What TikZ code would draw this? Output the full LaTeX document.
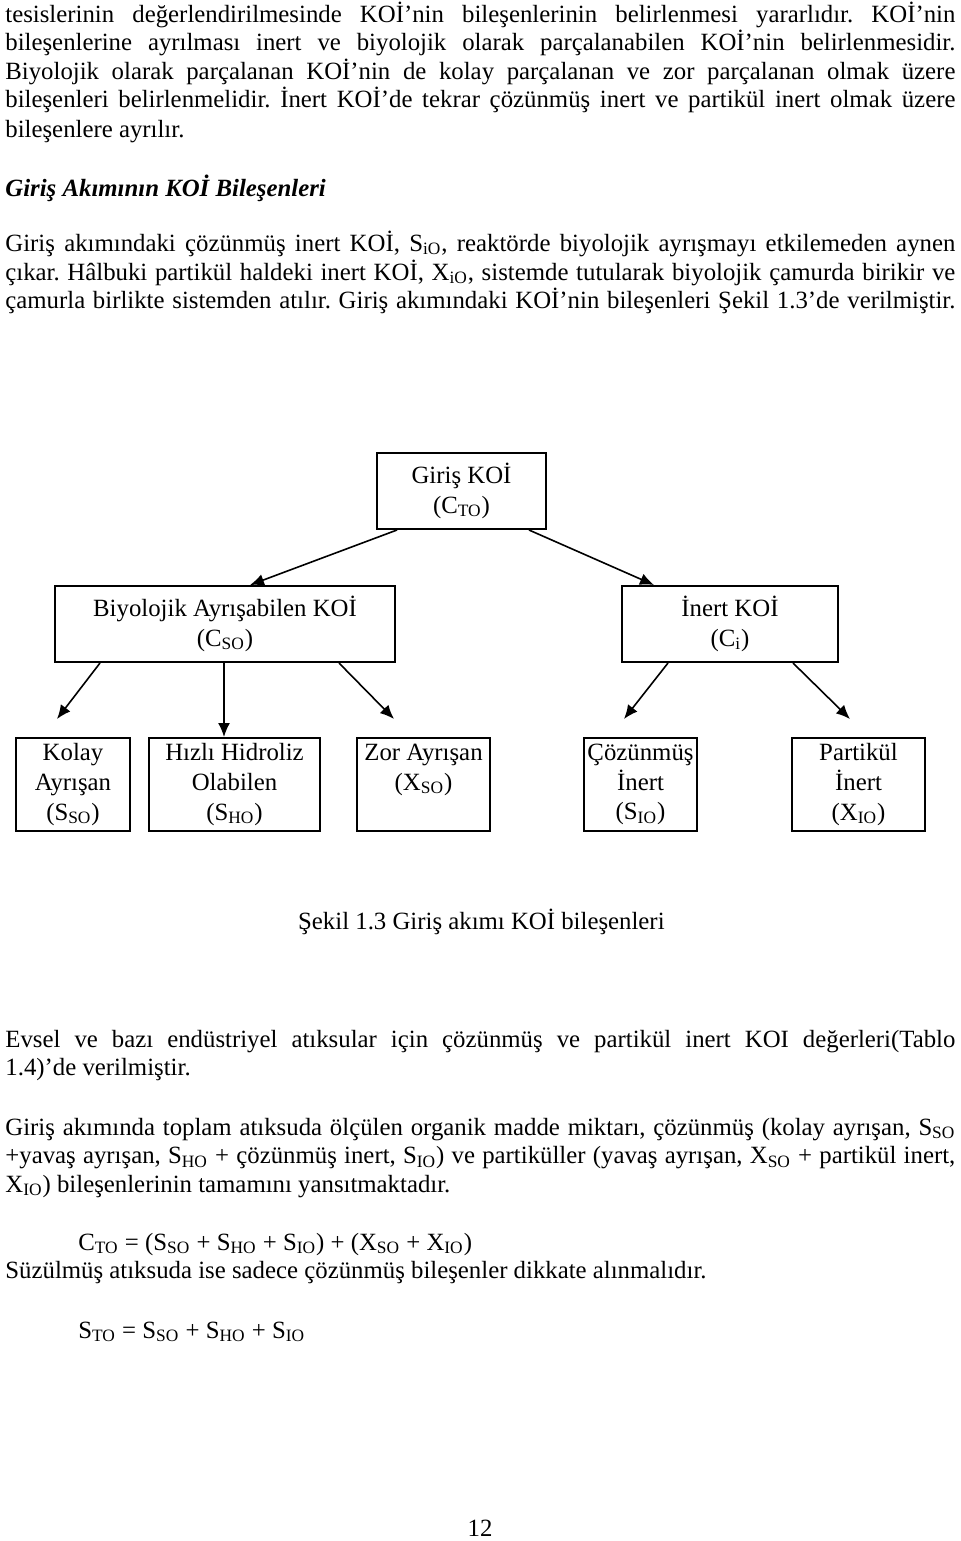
\documentclass[tikz,border=0pt]{standalone}
\usepackage{fontspec}
\setmainfont{Liberation Serif}
\usetikzlibrary{calc,arrows.meta}
\newcommand{\sbs}[1]{\textsubscript{#1}}
\frenchspacing
\begin{document}
\begin{tikzpicture}[x=0.5pt,y=-0.5pt,
  font=\fontsize{12.4}{14.8}\selectfont\frenchspacing,
  box/.style={draw, line width=1pt, align=center, inner sep=0pt},
  tline/.style={anchor=base west, inner sep=0pt},
  jl/.style={tline},
  arr/.style={-{Latex[length=7pt,width=6pt]}, line width=0.8pt}]
\fill[white] (0,0) rectangle (960,1541);
\useasboundingbox (0,0) rectangle (960,1541);

% paragraph 1
\node[jl] (p1a) at (5,22.7) {\makebox[475pt][s]{tesislerinin değerlendirilmesinde KOİ’nin bileşenlerinin belirlenmesi yararlıdır. KOİ’nin}};
\node[jl] (p1b) at (5,51) {\makebox[475pt][s]{bileşenlerine ayrılması inert ve biyolojik olarak parçalanabilen KOİ’nin belirlenmesidir.}};
\node[jl] (p1c) at (5,80) {\makebox[475pt][s]{Biyolojik olarak parçalanan KOİ’nin de kolay parçalanan ve zor parçalanan olmak üzere}};
\node[jl] (p1d) at (5,108) {\makebox[475pt][s]{bileşenleri belirlenmelidir. İnert KOİ’de tekrar çözünmüş inert ve partikül inert olmak üzere}};
\node[tline] (p1e) at (5,137) {bileşenlere ayrılır.};

\node[tline] (head) at (5,196.7) {\textbf{\textit{Giriş Akımının KOİ Bileşenleri}}};

% paragraph 2
\node[jl] (p2a) at (5,251) {\makebox[475pt][s]{Giriş akımındaki çözünmüş inert KOİ, S\sbs{iO}, reaktörde biyolojik ayrışmayı etkilemeden aynen}};
\node[jl] (p2b) at (5,280) {\makebox[475pt][s]{çıkar. Hâlbuki partikül haldeki inert KOİ, X\sbs{iO}, sistemde tutularak biyolojik çamurda birikir ve}};
\node[jl] (p2c) at (5,308.5) {\makebox[475pt][s]{çamurla birlikte sistemden atılır. Giriş akımındaki KOİ’nin bileşenleri Şekil 1.3’de verilmiştir.}};

% diagram
\node[box, minimum width=84.5pt, minimum height=38pt] (top) at (461.5,491) {Giriş KOİ\\(C\sbs{TO})};
\node[box, minimum width=170pt, minimum height=38pt] (bio) at (225,624) {Biyolojik Ayrışabilen KOİ\\(C\sbs{SO})};
\node[box, minimum width=108pt, minimum height=38pt] (inert) at (730,624) {İnert KOİ\\(C\sbs{i})};
\node[box, minimum width=57pt, minimum height=46.5pt] (kolay) at (73,784.5) {Kolay\\Ayrışan\\(S\sbs{SO})};
\node[box, minimum width=85.5pt, minimum height=46.5pt] (hizli) at (234.5,784.5) {Hızlı Hidroliz\\Olabilen\\(S\sbs{HO})};
\node[box, minimum width=66.5pt, minimum height=46.5pt] (zor) at (423.5,784.5) {Zor Ayrışan\\(X\sbs{SO})\\\phantom{(X)}};
\node[box, minimum width=56.5pt, minimum height=46.5pt] (coz) at (640.5,784.5) {Çözünmüş\\İnert\\(S\sbs{IO})};
\node[box, minimum width=66.5pt, minimum height=46.5pt] (part) at (858.5,784.5) {Partikül\\İnert\\(X\sbs{IO})};

\draw[arr] ($(top.south west)+(21,0)$) -- ($(bio.north west)+(196,0)$);
\draw[arr] ($(top.south west)+(153,0)$) -- ($(inert.north west)+(33,0)$);
\coordinate (ek) at ($(kolay.north west)+(42,-18)$);
\coordinate (ez) at ($(zor.north west)+(38,-18)$);
\coordinate (ec) at ($(coz.north west)+(41,-18)$);
\coordinate (ep) at ($(part.north west)+(59,-18)$);
\draw[arr] ($(bio.south west)+(46,0)$) -- (ek);
\draw[arr] ($(bio.south west)+(170,0)$) -- ($(hizli.north west)+(76,0)$);
\draw[arr] ($(bio.south west)+(285,0)$) -- (ez);
\draw[arr] ($(inert.south west)+(47,0)$) -- (ec);
\draw[arr] ($(inert.south west)+(172,0)$) -- (ep);

\node[anchor=base east, inner sep=0pt] (cap) at (665,929) {Şekil 1.3 Giriş akımı KOİ bileşenleri};

% paragraph 3
\node[jl] (p3a) at (5,1047) {\makebox[475pt][s]{Evsel ve bazı endüstriyel atıksular için çözünmüş ve partikül inert KOI değerleri(Tablo}};
\node[tline] (p3b) at (5,1075.5) {1.4)’de verilmiştir.};

% paragraph 4
\node[jl] (p4a) at (5,1135) {\makebox[475pt][s]{Giriş akımında toplam atıksuda ölçülen organik madde miktarı, çözünmüş (kolay ayrışan, S\sbs{SO}}};
\node[jl] (p4b) at (5,1163.5) {\makebox[475pt][s]{+yavaş ayrışan, S\sbs{HO} + çözünmüş inert, S\sbs{IO}) ve partiküller (yavaş ayrışan, X\sbs{SO} + partikül inert,}};
\node[tline] (p4c) at (5,1192) {X\sbs{IO}) bileşenlerinin tamamını yansıtmaktadır.};

\node[tline] (eq1) at (78,1250) {C\sbs{TO} = (S\sbs{SO} + S\sbs{HO} + S\sbs{IO}) + (X\sbs{SO} + X\sbs{IO})};
\node[tline] (p5) at (5,1278) {Süzülmüş atıksuda ise sadece çözünmüş bileşenler dikkate alınmalıdır.};
\node[tline] (eq2) at (78,1338) {S\sbs{TO} = S\sbs{SO} + S\sbs{HO} + S\sbs{IO}};

\node[anchor=base, inner sep=0pt] (pg) at (480,1536) {12};
\end{tikzpicture}
\end{document}
